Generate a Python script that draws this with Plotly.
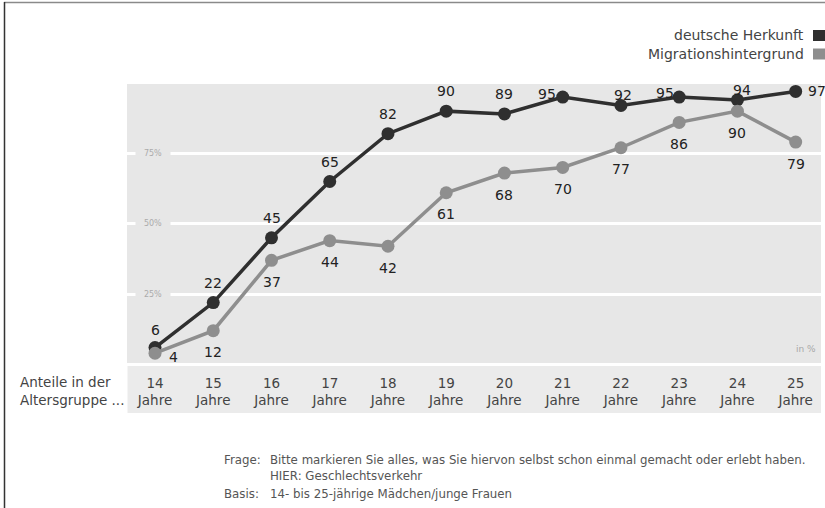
import plotly.graph_objects as go

# ---- data ----
ages = [14, 15, 16, 17, 18, 19, 20, 21, 22, 23, 24, 25]
age_labels = [f"{a}<br>Jahre" for a in ages]
deutsch = [6, 22, 45, 65, 82, 90, 89, 95, 92, 95, 94, 97]
migration = [4, 12, 37, 44, 42, 61, 68, 70, 77, 86, 90, 79]
y_ticks = [25, 50, 75]
y_tick_labels = ["25%", "50%", "75%"]
series_names = ["deutsche Herkunft", "Migrationshintergrund"]

# ---- layout geometry ----
W, H = 825, 508
ML, MR, MT, MB = 127, 4, 84, 145
PW, PH = W - ML - MR, H - MT - MB


def px(xp):
    return (xp - ML) / PW


def py(yp):
    return (H - MB - yp) / PH


DARK = "#2f2f2f"
GREY = "#8e8e8e"
BG = "#e7e7e7"
FONT = "DejaVu Sans"

fig = go.Figure()
fig.add_trace(go.Scatter(x=ages, y=deutsch, mode="lines+markers", name=series_names[0],
                         line=dict(color=DARK, width=3.5),
                         marker=dict(color=DARK, size=13), hoverinfo="skip"))
fig.add_trace(go.Scatter(x=ages, y=migration, mode="lines+markers", name=series_names[1],
                         line=dict(color=GREY, width=3.5),
                         marker=dict(color=GREY, size=13), hoverinfo="skip"))

ann = []
lab_font = dict(family=FONT, size=14, color="#222")
# data labels
dark_off = {7: (-16, 3), 8: (2, 11), 9: (-14, 4), 10: (5, 10), 0: (0, 18)}
for i, (a, v) in enumerate(zip(ages, deutsch)):
    xs, ys = dark_off.get(i, (0, 20))
    if i == len(ages) - 1:
        ann.append(dict(x=a, y=v, text=str(v), showarrow=False, xanchor="left", yanchor="middle",
                        xshift=10.5, yshift=0, font=lab_font))
        continue
    ann.append(dict(x=a, y=v, text=str(v), showarrow=False, xanchor="center", yanchor="middle",
                    xshift=xs, yshift=ys, font=lab_font))
grey_off = {0: (18, -4)}
for i, (a, v) in enumerate(zip(ages, migration)):
    xs, ys = grey_off.get(i, (0, -21.5))
    ann.append(dict(x=a, y=v, text=str(v), showarrow=False, xanchor="center", yanchor="middle",
                    xshift=xs, yshift=ys, font=lab_font))

# y tick labels inside the plot, covering the gridline
for v, t in zip(y_ticks, y_tick_labels):
    ann.append(dict(x=px(153), xref="paper", y=v, yref="y", text=t, showarrow=False,
                    xanchor="center", yanchor="middle", width=32, bgcolor=BG,
                    font=dict(family=FONT, size=8, color="#ababab")))


def txt(x, y, text, size, color, xanchor="left", align="left"):
    return dict(x=px(x), xref="paper", y=py(y), yref="paper", text=text, showarrow=False,
                xanchor=xanchor, yanchor="middle", align=align,
                font=dict(family=FONT, size=size, color=color))


# "in %"
ann.append(txt(818, 349, "in %", 9, "#a8a8a8", xanchor="right"))
# axis caption
ann.append(txt(18, 390.5, "Anteile in der<br>Altersgruppe ...", 13.5, "#444"))
# legend
ann.append(txt(806, 35, series_names[0], 14, "#444", xanchor="right"))
ann.append(txt(806, 53.5, series_names[1], 14, "#444", xanchor="right"))
# footnote
FN = 11.8
ann.append(txt(222, 460, "Frage:", FN, "#555"))
ann.append(txt(268, 460, "Bitte markieren Sie alles, was Sie hiervon selbst schon einmal gemacht oder erlebt haben.", FN, "#555"))
ann.append(txt(268, 475.5, "HIER: Geschlechtsverkehr", FN, "#555"))
ann.append(txt(222, 493.5, "Basis:", FN, "#555"))
ann.append(txt(268, 493.5, "14- bis 25-jährige Mädchen/junge Frauen", FN, "#555"))

shapes = [
    # tick label band
    dict(type="rect", xref="paper", yref="paper", x0=px(127.5), x1=px(821), y0=py(366), y1=py(413),
         fillcolor="#ebebeb", line=dict(width=0), layer="below"),
    # legend squares
    dict(type="rect", xref="paper", yref="paper", x0=px(813), x1=px(826), y0=py(30), y1=py(41),
         fillcolor=DARK, line=dict(width=0)),
    dict(type="rect", xref="paper", yref="paper", x0=px(813), x1=px(826), y0=py(48.5), y1=py(59.5),
         fillcolor=GREY, line=dict(width=0)),
    # frame
    dict(type="line", xref="paper", yref="paper", x0=px(4), x1=px(826), y0=py(2.5), y1=py(2.5),
         line=dict(color="#8a8a8a", width=1.5)),
    dict(type="line", xref="paper", yref="paper", x0=px(4.5), x1=px(4.5), y0=py(2), y1=py(510),
         line=dict(color="#333", width=1.5)),
]

fig.update_layout(
    width=W, height=H,
    margin=dict(l=ML, r=MR, t=MT, b=MB, pad=0),
    paper_bgcolor="white", plot_bgcolor=BG,
    showlegend=False,
    annotations=ann, shapes=shapes,
    font=dict(family=FONT, color="#444"),
    xaxis=dict(range=[13.519, 25.435], tickvals=ages, ticktext=age_labels, showgrid=False,
               zeroline=False, showline=False, ticks="", fixedrange=True,
               tickfont=dict(family=FONT, size=13.5, color="#444"), ticklabelstandoff=10),
    yaxis=dict(range=[0.53, 99.64], tickvals=y_ticks, showticklabels=False, showgrid=True,
               gridcolor="white", gridwidth=3, zeroline=False, showline=False, ticks="",
               fixedrange=True),
)

fig.write_html("out.html", config={"displayModeBar": False},
               post_script="document.body.style.margin='0';document.body.style.overflow='hidden';")
